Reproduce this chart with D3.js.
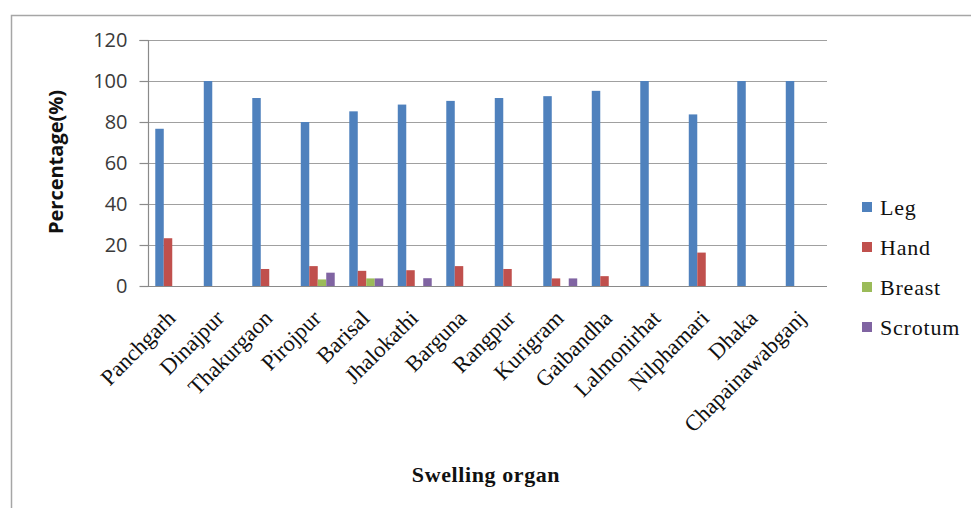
<!DOCTYPE html>
<html>
<head>
<meta charset="utf-8">
<script src="https://cdn.jsdelivr.net/npm/d3@7/dist/d3.min.js"></script>
<style>
  html, body { margin: 0; padding: 0; background: #fff; }
  svg { display: block; }
</style>
</head>
<body>
<svg id="chart" width="971" height="508"></svg>
<script>
// Districts along the x axis
const districts = ["Panchgarh", "Dinajpur", "Thakurgaon", "Pirojpur", "Barisal", "Jhalokathi",
  "Barguna", "Rangpur", "Kurigram", "Gaibandha", "Lalmonirhat", "Nilphamari", "Dhaka", "Chapainawabganj"];

// Share of cases (%) by swelling organ, one value per district
const leg     = [76.7, 100, 91.7, 80.0, 85.2, 88.5, 90.3, 91.7, 92.6, 95.2, 100, 83.7, 100, 100];
const hand    = [23.3, 0, 8.3, 9.7, 7.4, 7.7, 9.7, 8.3, 3.7, 4.8, 0, 16.3, 0, 0];
const breast  = [0, 0, 0, 3.2, 3.7, 0, 0, 0, 0, 0, 0, 0, 0, 0];
const scrotum = [0, 0, 0, 6.5, 3.7, 3.8, 0, 0, 3.7, 0, 0, 0, 0, 0];

const seriesNames = ["Leg", "Hand", "Breast", "Scrotum"];
const seriesValues = [leg, hand, breast, scrotum];
const seriesColors = ["#4F81BD", "#C0504D", "#9BBB59", "#8064A2"];

const yTicks = [0, 20, 40, 60, 80, 100, 120];

const serif = "'Liberation Serif', 'Times New Roman', serif";
const sans = "'Open Sans', 'Liberation Sans', sans-serif";

const svg = d3.select("#chart");

// outer chart frame
svg.append("rect")
  .attr("x", 11.5).attr("y", 15.5)
  .attr("width", 980).attr("height", 520)
  .attr("fill", "none").attr("stroke", "#a6a6a6").attr("stroke-width", 1.5);

const plot = { left: 148, right: 827, top: 40, bottom: 286 };

const x0 = d3.scaleBand().domain(districts).range([plot.left, plot.right]).paddingInner(0.3).paddingOuter(0.15);
const x1 = d3.scaleBand().domain(seriesNames).range([0, x0.bandwidth()]);
const y = d3.scaleLinear().domain([0, 120]).range([plot.bottom, plot.top]);

// horizontal gridlines
svg.append("g")
  .selectAll("line")
  .data(yTicks.filter(t => t > 0))
  .join("line")
  .attr("x1", plot.left).attr("x2", plot.right)
  .attr("y1", d => Math.round(y(d)) + 0.5).attr("y2", d => Math.round(y(d)) + 0.5)
  .attr("stroke", "#a0a0a0").attr("stroke-width", 1.2);

// y axis
const yAxis = svg.append("g")
  .attr("transform", `translate(${plot.left + 0.5},0)`)
  .call(d3.axisLeft(y).tickValues(yTicks).tickSize(9).tickPadding(12).tickFormat(d3.format("d")));
yAxis.select(".domain").attr("stroke", "#8a8a8a").attr("stroke-width", 1.2).attr("d", `M-9,${plot.top + 0.5}H0V${plot.bottom + 0.5}`);
yAxis.selectAll(".tick line").attr("stroke", "#8a8a8a").attr("stroke-width", 1.2);
yAxis.selectAll(".tick text")
  .attr("font-family", sans)
  .attr("font-size", 20).attr("fill", "#3a3a3a");

// x baseline
svg.append("line")
  .attr("x1", plot.left).attr("x2", plot.right)
  .attr("y1", plot.bottom + 0.5).attr("y2", plot.bottom + 0.5)
  .attr("stroke", "#8a8a8a").attr("stroke-width", 1.2);

// bars
const groups = svg.append("g")
  .selectAll("g")
  .data(districts)
  .join("g")
  .attr("transform", d => `translate(${x0(d)},0)`);

groups.selectAll("rect")
  .data((d, i) => seriesNames.map((s, k) => ({ s, k, v: seriesValues[k][i] })))
  .join("rect")
  .filter(d => d.v > 0)
  .attr("x", d => x1(d.s))
  .attr("y", d => y(d.v))
  .attr("width", x1.bandwidth())
  .attr("height", d => y(0) - y(d.v))
  .attr("fill", d => seriesColors[d.k]);

// district labels, slanted
svg.append("g")
  .selectAll("text")
  .data(districts)
  .join("text")
  .attr("transform", d => `translate(${x0(d) + x0.bandwidth() / 2 - 1},${plot.bottom + 28}) rotate(-45)`)
  .attr("text-anchor", "end")
  .attr("dy", "0.35em")
  .attr("font-family", serif)
  .attr("font-size", 22.5)
  .attr("fill", "#111")
  .text(d => d);

// y axis title
svg.append("text")
  .attr("transform", `translate(63,162) rotate(-90)`)
  .attr("text-anchor", "middle")
  .attr("font-family", sans)
  .attr("font-weight", "bold")
  .attr("font-size", 20)
  .attr("fill", "#111")
  .text("Percentage(%)");

// x axis title
svg.append("text")
  .attr("x", 486).attr("y", 482)
  .attr("text-anchor", "middle")
  .attr("font-family", serif)
  .attr("font-weight", "bold")
  .attr("font-size", 22)
  .attr("letter-spacing", 0.6)
  .attr("fill", "#111")
  .text("Swelling organ");

// legend
const legend = svg.append("g")
  .selectAll("g")
  .data(seriesNames)
  .join("g")
  .attr("transform", (d, i) => `translate(862,${207 + i * 40})`);
legend.append("rect")
  .attr("x", 0).attr("y", -5).attr("width", 10).attr("height", 10)
  .attr("fill", (d, i) => seriesColors[i]);
legend.append("text")
  .attr("x", 18).attr("y", 0).attr("dy", "0.36em")
  .attr("font-family", serif)
  .attr("font-size", 22)
  .attr("letter-spacing", 0.8)
  .attr("fill", "#111")
  .text(d => d);
</script>
</body>
</html>
